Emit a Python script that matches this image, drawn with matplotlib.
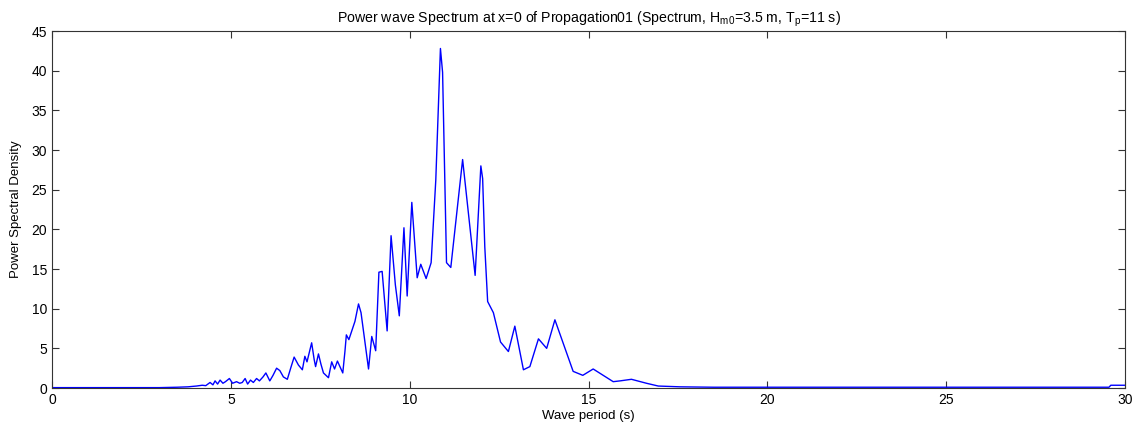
import matplotlib
matplotlib.use('Agg')
import matplotlib.pyplot as plt

plt.rcParams['font.family'] = ['Liberation Sans', 'DejaVu Sans']
plt.rcParams['mathtext.default'] = 'regular'

# Wave period (s) and power spectral density
period = [0, 1, 2, 3, 3.5, 3.8, 4.04, 4.2, 4.3, 4.42, 4.5, 4.56, 4.63, 4.7,
          4.78, 4.85, 4.96, 5.05, 5.16, 5.25, 5.32, 5.4, 5.47, 5.55, 5.63,
          5.72, 5.8, 5.9, 5.98, 6.09, 6.18, 6.28, 6.37, 6.47, 6.58, 6.68,
          6.77, 6.89, 7.0, 7.07, 7.13, 7.26, 7.33, 7.37, 7.45, 7.52, 7.59,
          7.73, 7.82, 7.9, 7.98, 8.13, 8.19, 8.23, 8.3, 8.47, 8.57, 8.64,
          8.85, 8.94, 9.05, 9.14, 9.23, 9.37, 9.48, 9.6, 9.71, 9.84, 9.93,
          10.06, 10.21, 10.31, 10.46, 10.6, 10.73, 10.86, 10.92, 11.03,
          11.15, 11.48, 11.83, 11.99, 12.04, 12.1, 12.18, 12.34, 12.54,
          12.76, 12.94, 13.18, 13.36, 13.6, 13.83, 14.06, 14.57, 14.84,
          15.13, 15.69, 15.88, 16.2, 16.62, 16.95, 17.56, 18.5, 20, 22, 25,
          28, 29.55, 29.6, 30]
psd = [0.05, 0.05, 0.05, 0.05, 0.1, 0.15, 0.25, 0.35, 0.3, 0.7, 0.4, 0.9,
       0.5, 1.0, 0.6, 0.8, 1.2, 0.6, 0.8, 0.6, 0.7, 1.2, 0.5, 1.0, 0.7, 1.2,
       0.9, 1.4, 1.9, 0.9, 1.6, 2.5, 2.2, 1.4, 1.1, 2.6, 3.9, 2.9, 2.3, 4.0,
       3.3, 5.7, 3.6, 2.7, 4.3, 3.0, 1.9, 1.3, 3.3, 2.4, 3.4, 1.9, 4.6, 6.7,
       6.1, 8.4, 10.6, 9.5, 2.4, 6.5, 4.7, 14.6, 14.7, 7.2, 19.2, 13.0, 9.1,
       20.2, 11.6, 23.4, 13.9, 15.6, 13.8, 15.8, 26.2, 42.8, 39.8, 15.8,
       15.2, 28.8, 14.2, 28.0, 26.4, 17.8, 10.9, 9.5, 5.8, 4.6, 7.8, 2.3,
       2.7, 6.2, 5.0, 8.6, 2.1, 1.6, 2.4, 0.8, 0.9, 1.1, 0.6, 0.25, 0.15,
       0.1, 0.1, 0.1, 0.1, 0.1, 0.1, 0.35, 0.35]

fig = plt.figure(figsize=(11.32, 4.25), dpi=100)
ax = fig.add_axes([0.0459, 0.087, 0.948, 0.840])
ax.plot(period, psd, color='#0000ff', linewidth=1.0)

ax.set_xlim(0, 30)
ax.set_ylim(0, 45)
ax.set_xticks(range(0, 31, 5))
ax.set_yticks(range(0, 46, 5))
ax.tick_params(direction='in', top=True, right=True, length=5,
               labelsize=10, color='#333333')
for s in ax.spines.values():
    s.set_color('#333333')
    s.set_linewidth(0.8)

ax.set_title('Power wave Spectrum at x=0 of Propagation01 '
             '(Spectrum, H$_{m0}$=3.5 m, T$_p$=11 s)', fontsize=10.2, pad=6)
ax.set_xlabel('Wave period (s)', fontsize=9.5, labelpad=2)
ax.set_ylabel('Power Spectral Density', fontsize=9.5, labelpad=7)

fig.savefig('out.png', dpi=100)
